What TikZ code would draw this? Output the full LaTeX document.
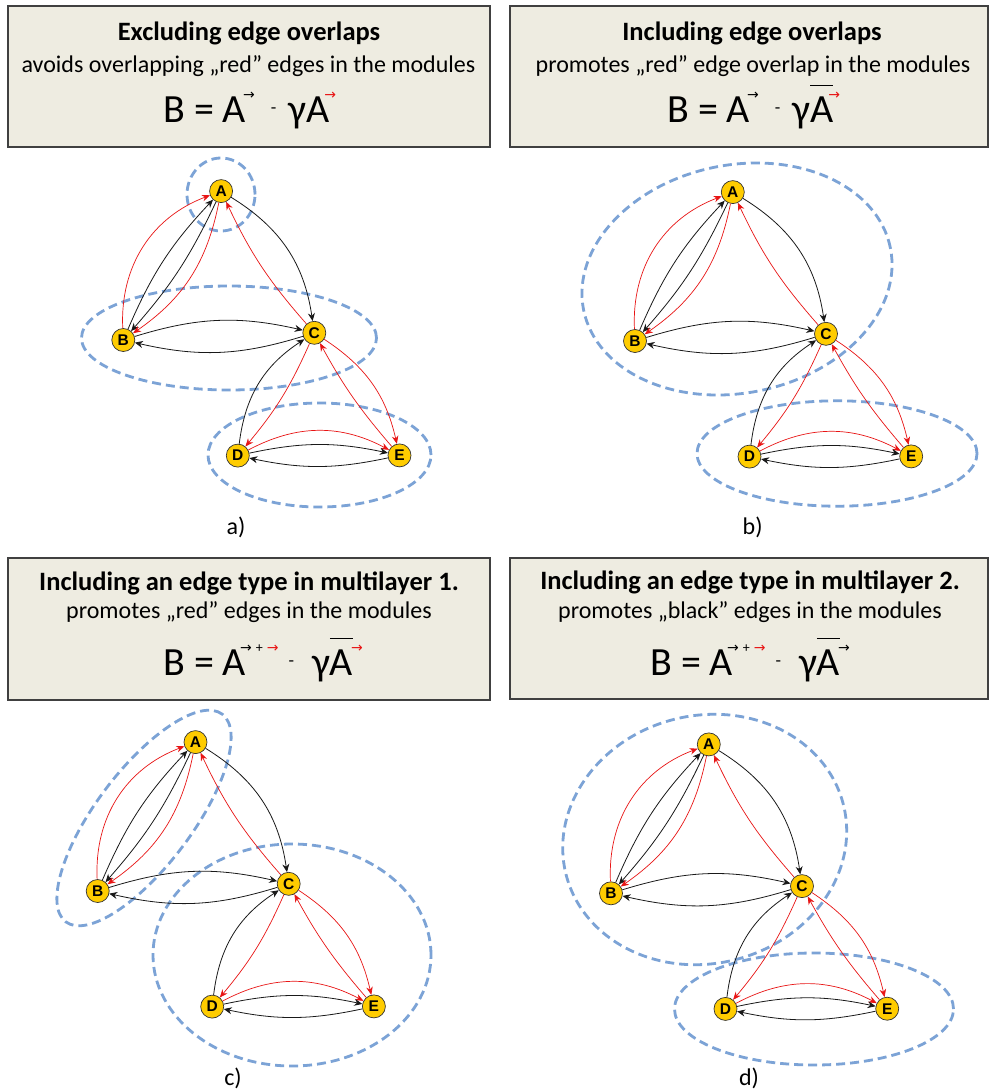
\documentclass[tikz,border=0pt]{standalone}
\usepackage{fontspec}
\setmainfont{Carlito}
\newfontfamily\arrf{DejaVu Sans}
\newfontfamily\vtxf{Liberation Sans}
\usetikzlibrary{arrows.meta}
\definecolor{boxfill}{RGB}{238,236,225}
\definecolor{boxline}{RGB}{64,64,64}
\definecolor{modblue}{RGB}{124,163,214}
\definecolor{vtxgold}{RGB}{255,204,0}
\definecolor{edgered}{RGB}{232,20,20}
\newcommand\ttlf{\fontsize{26.5}{29}\selectfont\bfseries}
\newcommand\subf{\fontsize{24}{27}\selectfont}
\newcommand\fmlf{\fontsize{40}{44}\selectfont}
\newcommand\sar[1]{\raisebox{22.5pt}{\fontsize{14}{14}\selectfont\arrf\textcolor{#1}{→}}}
\newcommand\sdash{\raisebox{9pt}{\fontsize{18}{18}\selectfont -}}
\newcommand\splus{\raisebox{23pt}{\fontsize{14}{14}\selectfont +}}
\newcommand\ovA{\setbox0\hbox{A}\rlap{\raisebox{36pt}{\rule{\wd0}{0.9pt}}}A}
\tikzset{
 vtx/.style={circle, draw=black!80, line width=0.7pt, fill=vtxgold, minimum size=23pt, inner sep=0pt, font={\vtxf\bfseries\fontsize{15.5}{16}\selectfont}},
 blk/.style={draw=black!90, line width=0.8pt, -{Stealth[length=8pt,width=7pt]}},
 redE/.style={draw=edgered, line width=0.7pt, -{Stealth[length=8pt,width=6.5pt]}},
 modline/.style={draw=modblue, line width=2.8pt, dash pattern=on 9pt off 5pt},
 panelbox/.style={draw=boxline, line width=1.3pt, fill=boxfill, inner sep=0pt},
 lbl/.style={font={\fontsize{24}{26}\selectfont}},
}
\newcommand\netw[3]{%
 \begin{scope}[shift={(#2,#3)}]
  \node[vtx] (#1A) at (97.8,148.9) {A};
  \node[vtx] (#1B) at (0,0) {B};
  \node[vtx] (#1C) at (191,7.2) {C};
  \node[vtx] (#1D) at (114.5,-115.6) {D};
  \node[vtx] (#1E) at (276.2,-115.4) {E};
 \end{scope}
 \draw[blk] (#1A) to[bend left=25] (#1C);
 \draw[redE] (#1C) to[bend left=8] (#1A);
 \draw[redE] (#1B) to[bend left=36] (#1A);
 \draw[blk] (#1B) to[bend left=10] (#1A);
 \draw[blk] (#1A) to[bend left=8] (#1B);
 \draw[redE] (#1A) to[bend left=22] (#1B);
 \draw[blk] (#1B) to[bend left=15] (#1C);
 \draw[blk] (#1C) to[bend left=15] (#1B);
 \draw[blk] (#1D) to[bend left=25] (#1C);
 \draw[redE] (#1C) to[bend left=8] (#1D);
 \draw[redE] (#1C) to[bend left=22] (#1E);
 \draw[redE] (#1E) to[bend left=6] (#1C);
 \draw[redE] (#1D) to[bend left=28] (#1E);
 \draw[blk] (#1D) to[bend left=12] (#1E);
 \draw[blk] (#1E) to[bend left=12] (#1D);
}
\begin{document}
\begin{tikzpicture}[x=1pt,y=1pt]
\useasboundingbox (0,0) rectangle (989,-1092);
\fill[white] (0,0) rectangle (989,-1092);
% boxes
\node[panelbox, minimum width=482pt, minimum height=141pt] (boxa) at (249,-76.5) {};
\node[panelbox, minimum width=478pt, minimum height=141pt] (boxb) at (749,-76.5) {};
\node[panelbox, minimum width=482pt, minimum height=142pt] (boxc) at (249,-629) {};
\node[panelbox, minimum width=478pt, minimum height=141pt] (boxd) at (749,-628.5) {};
% panel a text
\node[anchor=base, font=\ttlf] (ta) at (249,-40) {Excluding edge overlaps};
\node[anchor=base, font=\subf] (sa) at (248.5,-72) {avoids overlapping „red” edges in the modules};
\node[anchor=base west, font=\fmlf, inner sep=0pt] (fa) at (163,-122) {B = A\kern-3pt\sar{black}\hspace{16pt}\sdash\hspace{12pt}γA\kern-5pt\sar{edgered}};
% panel b text
\node[anchor=base, font=\ttlf] (tb) at (752,-40) {Including edge overlaps};
\node[anchor=base, font=\subf] (sb) at (753,-72) {promotes „red” edge overlap in the modules};
\node[anchor=base west, font=\fmlf, inner sep=0pt] (fb) at (667,-122) {B = A\kern-3pt\sar{black}\hspace{16pt}\sdash\hspace{12pt}γ\ovA\kern-5pt\sar{edgered}};
% panel c text
\node[anchor=base, font=\ttlf] (tc) at (249,-590) {Including an edge type in multilayer 1.};
\node[anchor=base, font=\subf] (sc) at (249,-618) {promotes „red” edges in the modules};
\node[anchor=base west, font=\fmlf, inner sep=0pt] (fc) at (163,-675) {B = A\kern-6pt\sar{black}\kern4pt\splus\kern4pt\sar{edgered}\hspace{10pt}\sdash\hspace{18pt}γ\ovA\kern-2pt\sar{edgered}};
% panel d text
\node[anchor=base, font=\ttlf] (td) at (750,-589) {Including an edge type in multilayer 2.};
\node[anchor=base, font=\subf] (sd) at (750,-618.5) {promotes „black” edges in the modules};
\node[anchor=base west, font=\fmlf, inner sep=0pt] (fd) at (650,-675) {B = A\kern-6pt\sar{black}\kern4pt\splus\kern4pt\sar{edgered}\hspace{10pt}\sdash\hspace{18pt}γ\ovA\kern-2pt\sar{black}};
% modules
\draw[modline] (221,-194.5) ellipse [x radius=34, y radius=36.5];
\draw[modline] (229,-338) ellipse [x radius=147.5, y radius=52];
\draw[modline] (319.5,-455) ellipse [x radius=111.5, y radius=52];
\draw[modline, rotate around={11.5:(737,-279)}] (737,-279) ellipse [x radius=156.5, y radius=114];
\draw[modline] (837,-453.5) ellipse [x radius=140, y radius=52.7];
\draw[modline, rotate around={53:(144,-818)}] (144,-818) ellipse [x radius=130, y radius=48];
\draw[modline] (292,-955) ellipse [x radius=139, y radius=111];
\draw[modline, rotate around={14:(704.7,-839.5)}] (704.7,-839.5) ellipse [x radius=143, y radius=124];
\draw[modline] (814,-1009) ellipse [x radius=139.5, y radius=56];
% networks
\netw{a}{123.3}{-340}
\netw{b}{635}{-341}
\netw{c}{97.7}{-891}
\netw{d}{611}{-893.3}
% labels
\node[lbl] (la) at (236,-527) {a)};
\node[lbl] (lb) at (752.6,-527) {b)};
\node[lbl] (lc) at (233,-1078) {c)};
\node[lbl] (ld) at (749,-1078) {d)};
\end{tikzpicture}
\end{document}
